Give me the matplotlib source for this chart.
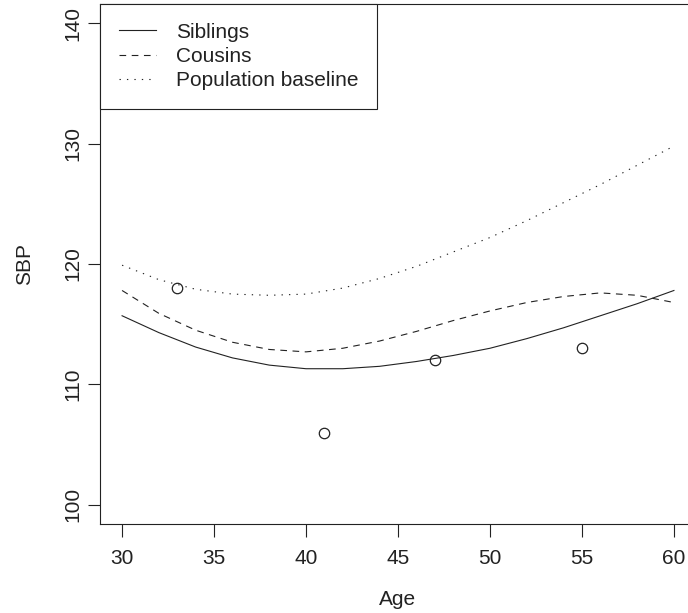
import matplotlib.pyplot as plt

plt.rcParams['font.family'] = ['Liberation Sans', 'DejaVu Sans']

# curves
ages = [30, 32, 34, 36, 38, 40, 42, 44, 46, 48, 50, 52, 54, 56, 58, 60]
siblings = [115.7, 114.3, 113.1, 112.2, 111.6, 111.3, 111.3, 111.5,
            111.9, 112.4, 113.0, 113.8, 114.7, 115.7, 116.7, 117.8]
cousins = [117.8, 115.9, 114.5, 113.5, 112.9, 112.7, 113.0, 113.6,
           114.4, 115.3, 116.1, 116.8, 117.3, 117.6, 117.4, 116.8]
baseline = [119.9, 118.7, 117.9, 117.5, 117.4, 117.5, 118.0, 118.8,
            119.8, 121.0, 122.2, 123.6, 125.1, 126.6, 128.2, 129.8]

# observed points
obs_age = [33, 41, 47, 55]
obs_sbp = [118, 106, 112, 113]

xticks = [30, 35, 40, 45, 50, 55, 60]
yticks = [100, 110, 120, 130, 140]

ink = '#222222'
fig = plt.figure(figsize=(6.88, 6.13), dpi=100)
# right edge of the box runs past the image, like the reference crop
ax = fig.add_axes([100 / 688, 1 - 524 / 613, 596 / 688, 520 / 613])

ax.plot(ages, siblings, color=ink, lw=0.8, label='Siblings')
ax.plot(ages, cousins, color=ink, lw=0.8, ls=(0, (6, 5)), label='Cousins')
ax.plot(ages, baseline, color=ink, lw=0.8, ls=(0, (1.2, 5.5)),
        label='Population baseline')
ax.plot(obs_age, obs_sbp, 'o', mfc='none', mec=ink, mew=0.9, ms=7.5)

ax.set_xlim(28.8, 61.2)
ax.set_ylim(98.4, 141.6)
ax.set_xticks(xticks)
ax.set_yticks(yticks)
ax.tick_params(direction='out', length=9, width=0.8, color=ink,
               labelsize=15, labelcolor=ink)
ax.tick_params(axis='x', pad=9)
ax.tick_params(axis='y', pad=4)
for lab in ax.get_yticklabels():
    lab.set_rotation(90)
    lab.set_va('center')
for s in ax.spines.values():
    s.set_color(ink)
    s.set_linewidth(0.8)

ax.set_xlabel('Age', fontsize=15, color=ink, labelpad=16)
ax.set_ylabel('SBP', fontsize=15, color=ink, labelpad=21)

leg = ax.legend(loc='upper left', bbox_to_anchor=(0, 1), borderaxespad=0,
                fontsize=15, fancybox=False, framealpha=1, edgecolor=ink,
                handlelength=1.8, handletextpad=0.95, labelspacing=0.25,
                borderpad=0.9)
leg.get_frame().set_linewidth(0.8)
for t in leg.get_texts():
    t.set_color(ink)

plt.savefig('out.png', dpi=100)
